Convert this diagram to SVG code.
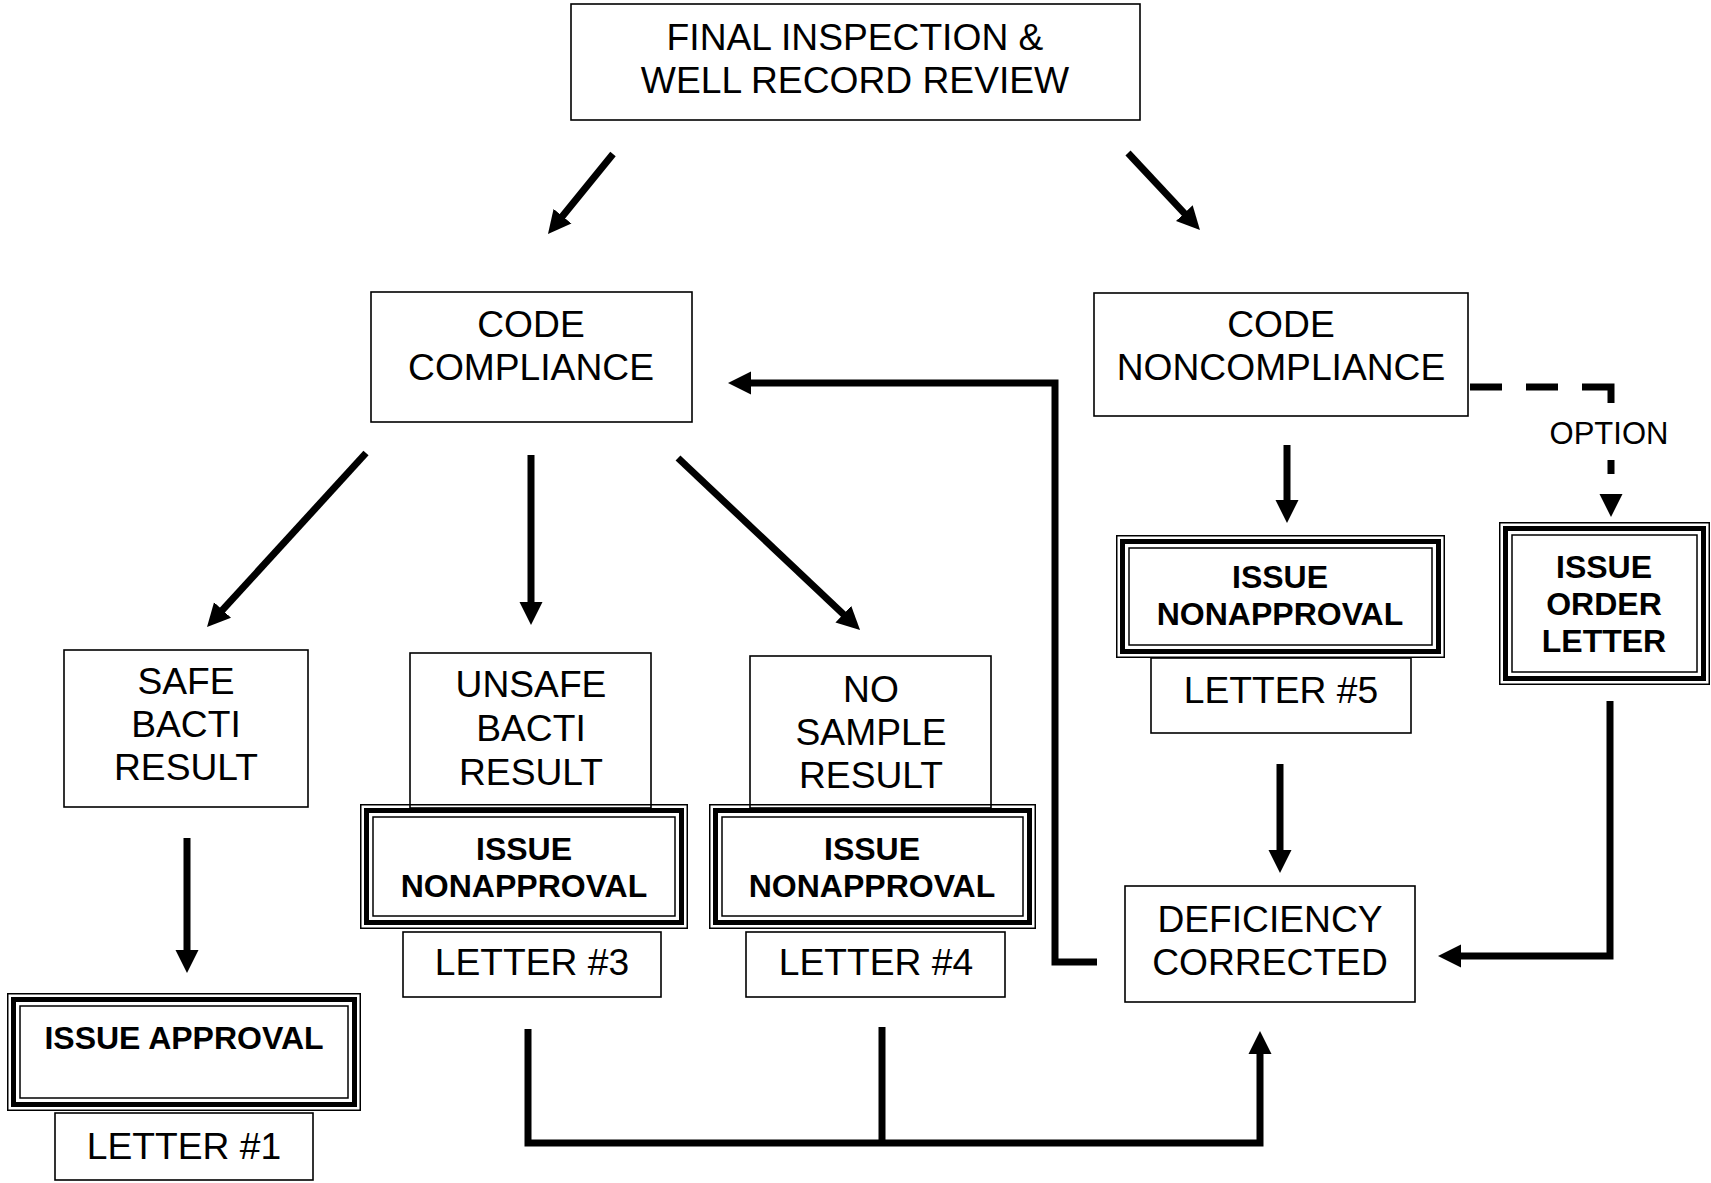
<svg xmlns="http://www.w3.org/2000/svg" width="1711" height="1183" viewBox="0 0 1711 1183">
<style>
.bx{fill:none;stroke:#000;stroke-width:1.6}
.o{fill:none;stroke:#000;stroke-width:1.5}
.k{fill:none;stroke:#000;stroke-width:5}
.t{font-family:"Liberation Sans",Arial,sans-serif;font-size:37.2px;fill:#000;text-anchor:middle}
.b{font-family:"Liberation Sans",Arial,sans-serif;font-size:32px;font-weight:bold;fill:#000;text-anchor:middle}
.op{font-family:"Liberation Sans",Arial,sans-serif;font-size:31px;fill:#000;text-anchor:middle}
.c{fill:none;stroke:#000;stroke-width:7;stroke-linejoin:miter;stroke-linecap:butt}
</style>
<defs>
<marker id="ah" markerUnits="userSpaceOnUse" markerWidth="26" markerHeight="24" viewBox="0 0 26 24" refX="3" refY="12" orient="auto"><path d="M0,0.5 L23,12 L0,23.5 z" fill="#000"/></marker>
</defs>
<rect width="1711" height="1183" fill="#fff"/>

<g id="n-final">
<rect class="bx" x="571" y="4" width="569" height="116"/>
<text class="t" x="855" y="50">FINAL INSPECTION &amp;</text>
<text class="t" x="855" y="93">WELL RECORD REVIEW</text>
</g>

<g id="n-compliance">
<rect class="bx" x="371" y="292" width="321" height="130"/>
<text class="t" x="531" y="337">CODE</text>
<text class="t" x="531" y="380">COMPLIANCE</text>
</g>

<g id="n-noncompliance">
<rect class="bx" x="1094" y="293" width="374" height="123"/>
<text class="t" x="1281" y="337">CODE</text>
<text class="t" x="1281" y="380">NONCOMPLIANCE</text>
</g>

<g id="n-safe">
<rect class="bx" x="64" y="650" width="244" height="157"/>
<text class="t" x="186" y="694">SAFE</text>
<text class="t" x="186" y="737">BACTI</text>
<text class="t" x="186" y="780">RESULT</text>
</g>

<g id="n-unsafe">
<rect class="bx" x="410" y="653" width="241" height="155"/>
<text class="t" x="531" y="697">UNSAFE</text>
<text class="t" x="531" y="741">BACTI</text>
<text class="t" x="531" y="785">RESULT</text>
</g>

<g id="n-nosample">
<rect class="bx" x="750" y="656" width="241" height="152"/>
<text class="t" x="871" y="702">NO</text>
<text class="t" x="871" y="745">SAMPLE</text>
<text class="t" x="871" y="788">RESULT</text>
</g>

<g id="n-approval">
<rect class="o" x="7.75" y="993.75" width="352.5" height="116.5"/>
<rect class="k" x="13.5" y="999.5" width="341" height="105"/>
<rect class="o" x="20" y="1006" width="328" height="92"/>
<text class="b" x="184" y="1049">ISSUE APPROVAL</text>
</g>
<g id="n-letter1">
<rect class="bx" x="55" y="1113" width="258" height="67"/>
<text class="t" x="184" y="1159">LETTER #1</text>
</g>

<g id="n-nonapproval3">
<rect class="o" x="360.75" y="804.75" width="326.5" height="123.5"/>
<rect class="k" x="366.5" y="810.5" width="315" height="112"/>
<rect class="o" x="373" y="817" width="302" height="99"/>
<text class="b" x="524" y="860">ISSUE</text>
<text class="b" x="524" y="897">NONAPPROVAL</text>
</g>
<g id="n-letter3">
<rect class="bx" x="403" y="932" width="258" height="65"/>
<text class="t" x="532" y="975">LETTER #3</text>
</g>

<g id="n-nonapproval4">
<rect class="o" x="709.75" y="804.75" width="325.5" height="123.5"/>
<rect class="k" x="715.5" y="810.5" width="314" height="112"/>
<rect class="o" x="722" y="817" width="301" height="99"/>
<text class="b" x="872" y="860">ISSUE</text>
<text class="b" x="872" y="897">NONAPPROVAL</text>
</g>
<g id="n-letter4">
<rect class="bx" x="746" y="932" width="259" height="65"/>
<text class="t" x="876" y="975">LETTER #4</text>
</g>

<g id="n-nonapproval5">
<rect class="o" x="1116.75" y="535.75" width="327.5" height="121.5"/>
<rect class="k" x="1122.5" y="541.5" width="316" height="110"/>
<rect class="o" x="1129" y="548" width="303" height="97"/>
<text class="b" x="1280" y="588">ISSUE</text>
<text class="b" x="1280" y="625">NONAPPROVAL</text>
</g>
<g id="n-letter5">
<rect class="bx" x="1151" y="658" width="260" height="75"/>
<text class="t" x="1281" y="703">LETTER #5</text>
</g>

<g id="n-order">
<rect class="o" x="1499.75" y="522.75" width="209.5" height="161.5"/>
<rect class="k" x="1505.5" y="528.5" width="198" height="150"/>
<rect class="o" x="1512" y="535" width="185" height="137"/>
<text class="b" x="1604" y="578">ISSUE</text>
<text class="b" x="1604" y="615">ORDER</text>
<text class="b" x="1604" y="652">LETTER</text>
</g>

<g id="n-deficiency">
<rect class="bx" x="1125" y="886" width="290" height="116"/>
<text class="t" x="1270" y="932">DEFICIENCY</text>
<text class="t" x="1270" y="975">CORRECTED</text>
</g>

<g id="connectors">
<path class="c" d="M613,154 L560.6,218.5" marker-end="url(#ah)"/>
<path class="c" d="M1128,153 L1186.3,215.4" marker-end="url(#ah)"/>
<path class="c" d="M366,453 L220.5,612.2" marker-end="url(#ah)"/>
<path class="c" d="M531,455 L531,605" marker-end="url(#ah)"/>
<path class="c" d="M678,458 L845.5,616.3" marker-end="url(#ah)"/>
<path class="c" d="M187,838 L187,953" marker-end="url(#ah)"/>
<path class="c" d="M1287,445 L1287,503" marker-end="url(#ah)"/>
<path class="c" d="M1280,764 L1280,853" marker-end="url(#ah)"/>
<path class="c" d="M1097,962 H1055 V383 H748" marker-end="url(#ah)"/>
<path class="c" d="M1610,701 V956 H1458" marker-end="url(#ah)"/>
<path class="c" d="M528,1029 V1143 H1260 V1051" marker-end="url(#ah)"/>
<path class="c" d="M882,1027 V1143"/>
<path class="c" d="M1470,387 H1611 V474" stroke-width="8" stroke-dasharray="32 24 32 24 45 57 14 100"/>
<path d="M1611,480 V497" fill="none" stroke="none" marker-end="url(#ah)"/>
<text class="op" x="1609" y="444">OPTION</text>
</g>
</svg>
